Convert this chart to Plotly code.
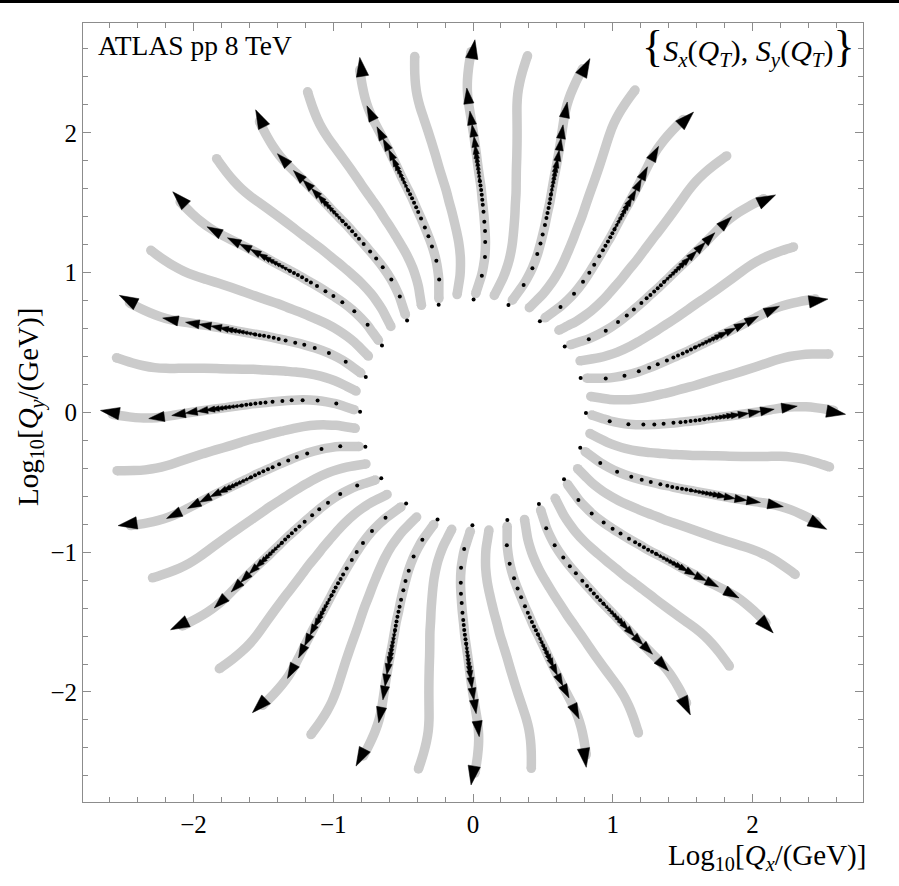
import math
import plotly.graph_objects as go

# ---------------- data ----------------
# base direction (deg) of each of the 40 flow lines
base_angles_deg = [0, 9, 18, 27, 36, 45, 54, 63, 72, 81,
                   90, 99, 108, 117, 126, 135, 144, 153, 162, 171,
                   180, 189, 198, 207, 216, 225, 234, 243, 252, 261,
                   270, 279, 288, 297, 306, 315, 324, 333, 342, 351]
# lines that carry black dots / arrows
arrow_angles_deg = [0, 18, 36, 54, 72, 90, 108, 126, 144, 162,
                    180, 198, 216, 234, 252, 270, 288, 306, 324, 342]

# gray line: radius (log10 units) and angular deviation (deg) from base direction
line_r = [0.85, 0.92, 0.985, 1.05, 1.12, 1.22, 1.30, 1.37, 1.44, 1.52, 1.60, 1.68,
          1.77, 1.86, 1.95, 2.04, 2.13, 2.22, 2.30, 2.38, 2.46, 2.53, 2.58]
line_dtheta = [-1.3, -2.6, -3.6, -4.1, -4.35, -4.2, -3.8, -3.4, -3.0, -2.5, -2.1, -1.6,
               -1.1, -0.7, -0.3, 0.1, 0.5, 0.85, 1.0, 0.95, 0.75, 0.5, 0.3]

# black dots along arrowed lines
dot_r = [0.808, 0.980, 1.115, 1.222, 1.300, 1.366, 1.436, 1.486, 1.522, 1.558, 1.592, 1.623, 1.654]
dot_dtheta = [-0.3, -3.7, -4.4, -4.1, -3.8, -3.4, -3.0, -2.7, -2.5, -2.3, -2.1, -1.9, -1.7]

# arrow heads along arrowed lines (tip positions) and their sizes
arrow_r = [1.690, 1.720, 1.750, 1.780, 1.810, 1.840, 1.877, 1.915, 1.975, 2.060, 2.155, 2.320, 2.665]
arrow_dtheta = [-1.5, -1.35, -1.2, -1.05, -0.9, -0.75, -0.6, -0.45, -0.2, 0.2, 0.6, 1.1, -0.3]
arrow_size = [5, 5.5, 6, 6.5, 7, 7.5, 9, 10, 11.5, 13, 14.5, 16.5, 20]

x_tick_vals = [-2, -1, 0, 1, 2]
x_tick_text = ["\u22122", "\u22121", "0", "1", "2"]
y_tick_vals = [-2, -1, 0, 1, 2]
y_tick_text = ["\u22122", "\u22121", "0", "1", "2"]

GRAY = "#cbcbcb"
FRAME = "#8c8c8c"
FONT = "Liberation Serif, Times New Roman, serif"


def polar_path(r_vals, d_vals, theta0):
    xs, ys = [], []
    for r, d in zip(r_vals, d_vals):
        a = math.radians(theta0 + d)
        xs.append(r * math.cos(a))
        ys.append(r * math.sin(a))
    return xs, ys


fig = go.Figure()

# gray lines
gx, gy, cx, cy = [], [], [], []
for th in base_angles_deg:
    xs, ys = polar_path(line_r, line_dtheta, th)
    gx += xs + [None]
    gy += ys + [None]
    cx += [xs[0], xs[-1]]
    cy += [ys[0], ys[-1]]

fig.add_trace(go.Scatter(x=gx, y=gy, mode="lines",
                         line=dict(color=GRAY, width=9.5, shape="spline", smoothing=1.0),
                         hoverinfo="skip"))
fig.add_trace(go.Scatter(x=cx, y=cy, mode="markers",
                         marker=dict(color=GRAY, size=9.5, opacity=1, line=dict(width=0)),
                         hoverinfo="skip"))

# black dots
dx, dy = [], []
for th in arrow_angles_deg:
    xs, ys = polar_path(dot_r, dot_dtheta, th)
    dx += xs
    dy += ys
fig.add_trace(go.Scatter(x=dx, y=dy, mode="markers",
                         marker=dict(color="black", size=4, opacity=1, line=dict(width=0)),
                         hoverinfo="skip"))

# arrows (first point = last dot, hidden, to define direction)
for th in arrow_angles_deg:
    xs, ys = polar_path([dot_r[-1]] + arrow_r, [dot_dtheta[-1]] + arrow_dtheta, th)
    fig.add_trace(go.Scatter(x=xs, y=ys, mode="markers",
                             marker=dict(color="black", symbol="arrow", size=[0] + arrow_size,
                                         opacity=1, angleref="previous",
                                         line=dict(width=0.5, color="black")),
                             hoverinfo="skip"))

axis_common = dict(showgrid=False, zeroline=False, showline=True, linecolor=FRAME, linewidth=1,
                   mirror="ticks", ticks="inside", ticklen=8, tickwidth=1, tickcolor=FRAME,
                   tickmode="array",
                   minor=dict(ticks="inside", ticklen=5, tickwidth=1, tickcolor=FRAME,
                              dtick=0.2, tick0=0, showgrid=False),
                   tickfont=dict(family=FONT, size=25, color="black"))

fig.update_xaxes(range=[-2.79, 2.79], tickvals=x_tick_vals, ticktext=x_tick_text, **axis_common)
fig.update_yaxes(range=[-2.787, 2.785], tickvals=y_tick_vals, ticktext=y_tick_text, **axis_common)

fig.update_layout(
    width=899, height=886,
    margin=dict(l=83, r=36, t=23, b=84),
    paper_bgcolor="white", plot_bgcolor="white",
    showlegend=False,
    font=dict(family=FONT, color="black"),
    shapes=[dict(type="rect", xref="paper", yref="paper",
                 x0=-0.2, x1=1.2, y0=1.0257, y1=1.04,
                 fillcolor="black", line=dict(width=0), layer="above")],
    annotations=[
        dict(text="ATLAS pp 8 TeV", xref="paper", yref="paper", x=0.0170, y=0.9711,
             xanchor="left", yanchor="middle", showarrow=False,
             font=dict(family=FONT, size=27.5, color="black")),
        dict(text="<span style='font-size:44px'>{</span><i>S</i><sub><i>x</i></sub>(<i>Q</i><sub><i>T</i></sub>), "
                  "<i>S</i><sub><i>y</i></sub>(<i>Q</i><sub><i>T</i></sub>)<span style='font-size:44px'>}</span>",
             xref="paper", yref="paper", x=0.9923, y=0.9690,
             xanchor="right", yanchor="middle", showarrow=False,
             font=dict(family=FONT, size=30, color="black")),
        dict(text="Log<sub>10</sub>[<i>Q</i><sub><i>x</i></sub>/(GeV)]",
             xref="paper", yref="paper", x=1.0064, y=-0.0706,
             xanchor="right", yanchor="middle", showarrow=False,
             font=dict(family=FONT, size=29, color="black")),
        dict(text="Log<sub>10</sub>[<i>Q</i><sub><i>y</i></sub>/(GeV)]",
             xref="paper", yref="paper", x=-0.0680, y=0.507, textangle=-90,
             xanchor="center", yanchor="middle", showarrow=False,
             font=dict(family=FONT, size=29, color="black")),
    ],
)

fig.write_html("out.html")
